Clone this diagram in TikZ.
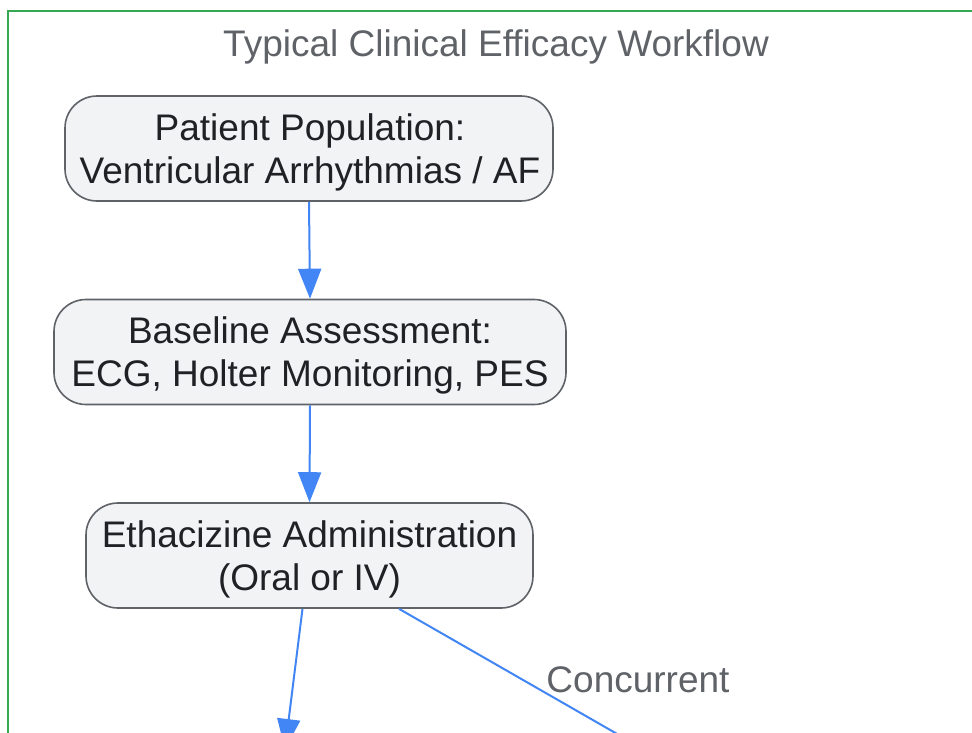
\documentclass[tikz,border=0pt]{standalone}
\usepackage{fontspec}
\setmainfont{Liberation Sans}
\usetikzlibrary{arrows.meta}
\definecolor{framegreen}{HTML}{34A853}
\definecolor{boxfill}{HTML}{F1F3F4}
\definecolor{boxline}{HTML}{5F6368}
\definecolor{txtdark}{HTML}{202124}
\definecolor{txtgray}{HTML}{5F6368}
\definecolor{arrblue}{HTML}{4285F4}
\tikzset{
  stepbox/.style={draw=boxline, fill=boxfill, line width=1.6pt, rounded corners=32pt,
    inner sep=0pt, minimum height=105pt},
  boxtxt/.style={align=center, text=txtdark, inner sep=0pt,
    font=\fontsize{37}{43}\selectfont},
  arr/.style={draw=arrblue, line width=2pt, -{Triangle[length=30pt,width=23pt]}},
  lbl/.style={text=txtgray, font=\fontsize{37}{43}\selectfont, inner sep=0pt},
}
\begin{document}
\begin{tikzpicture}[x=1pt,y=-1pt]
\useasboundingbox (0,0) rectangle (972,732);
\clip (0,0) rectangle (972,732);
\fill[white] (0,0) rectangle (972,732);
\draw[framegreen, line width=2pt] (7.5,11) rectangle (1100,900);
\node[lbl] (title) at (496,47) {Typical Clinical Efficacy Workflow};
\node[stepbox, minimum width=488pt] (b1) at (309,148.5) {};
\node[boxtxt] (t1) at (310,152) {Patient Population:\\Ventricular Arrhythmias / AF};
\node[stepbox, minimum width=512pt] (b2) at (310,352) {};
\node[boxtxt] (t2) at (310,355.5) {Baseline Assessment:\\ECG, Holter Monitoring, PES};
\node[stepbox, minimum width=447pt] (b3) at (309.5,555.5) {};
\node[boxtxt] (t3) at (309.5,559) {Ethacizine Administration\\(Oral or IV)};
\coordinate (c1) at (285,749);
\coordinate (c2) at (680,770);
\draw[arr] (b1.south) -- (b2.north);
\draw[arr] (b2.south) -- (b3.north);
\draw[arr] ([xshift=-7pt]b3.south) -- (c1);
\draw[arr] ([xshift=89.5pt]b3.south) -- (c2);
\node[lbl] (conc) at (638,680) {Concurrent};
\end{tikzpicture}
\end{document}
